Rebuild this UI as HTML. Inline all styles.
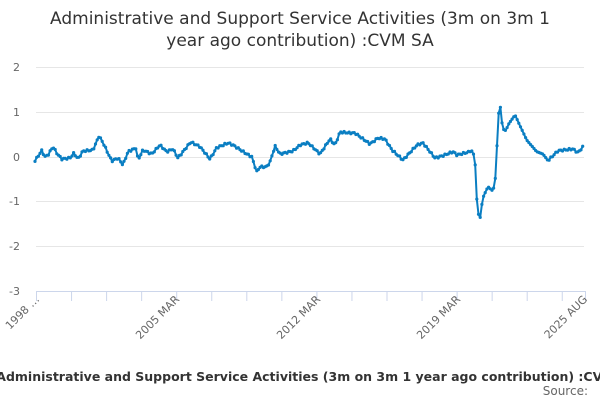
<!DOCTYPE html>
<html><head><meta charset="utf-8"><style>
body{margin:0;background:#fff;width:600px;height:400px;overflow:hidden;font-family:"Liberation Sans","DejaVu Sans",sans-serif}
</style></head><body>
<svg id="s" width="600" height="400" xmlns="http://www.w3.org/2000/svg" font-family="DejaVu Sans, Liberation Sans, sans-serif">
<text x="300" y="24" text-anchor="middle" font-size="17" fill="#333">Administrative and Support Service Activities (3m on 3m 1</text>
<text x="300" y="46" text-anchor="middle" font-size="17" fill="#333">year ago contribution) :CVM SA</text>
<g stroke="#e6e6e6" stroke-width="1">
<line x1="36" x2="584" y1="67.5" y2="67.5"/><line x1="36" x2="584" y1="112.5" y2="112.5"/>
<line x1="36" x2="584" y1="157.5" y2="157.5"/><line x1="36" x2="584" y1="201.5" y2="201.5"/>
<line x1="36" x2="584" y1="246.5" y2="246.5"/>
</g>
<g font-size="11" fill="#666" text-anchor="end">
<text x="20" y="71">2</text><text x="20" y="116">1</text><text x="20" y="161">0</text>
<text x="20" y="205">-1</text><text x="20" y="250">-2</text><text x="20" y="295">-3</text>
</g>
<line x1="36" x2="586" y1="291.5" y2="291.5" stroke="#ccd6eb"/>
<g id="ticks" stroke="#ccd6eb"></g>
<g font-size="11" fill="#666" text-anchor="end">
<text transform="translate(40,300) rotate(-45)">1998 …</text>
<text transform="translate(180,300) rotate(-45)">2005 MAR</text>
<text transform="translate(321,300) rotate(-45)">2012 MAR</text>
<text transform="translate(461,300) rotate(-45)">2019 MAR</text>
<text transform="translate(588,300) rotate(-45)">2025 AUG</text>
</g>
<polyline id="pl" fill="none" stroke="#0a7ec2" stroke-width="2" stroke-linejoin="round"/>
<g id="mk" fill="#0a7ec2"></g>
<text x="317" y="381" text-anchor="middle" font-size="12.5" font-weight="bold" fill="#333">Administrative and Support Service Activities (3m on 3m 1 year ago contribution) :CVM SA</text>
<text x="588" y="395" text-anchor="end" font-size="12" fill="#666">Source:</text>
</svg>
<script>
var k=[[35,160.7],[41.7,150.7],[45,156.7],[48,155],[53,146.7],[56.7,153],[61.7,159],[70,158],[74,153],[78,159],[83,151],[93,150],[99,136],[103,142.7],[111.7,161],[118,158],[123,165],[128,151.7],[136,148],[138,160],[143,150],[151.7,154],[160,145],[166.7,151.7],[173,149],[178,158],[190.7,142],[200,146.7],[210,159],[216.7,147.7],[228,143],[233,145],[246.7,154],[251.7,156.7],[256.7,171.7],[260,167],[266.7,166.7],[270,162],[275,146],[280,154],[293,151],[300,145],[308,142.7],[320,154],[330,139],[335,145],[340,132],[350,133],[355,133],[370,144],[378,138],[385,139],[392,150],[403,160],[417,145],[423,143],[435,158],[443,155.7],[453,151.7],[457,155],[470,151.7],[472.7,150.7],[475,160.7],[476,186.7],[477.7,211.7],[480,219],[482.7,198],[488,186.7],[492.7,191],[495,184],[496.7,154],[498,118],[500,104],[502.7,129],[506,130.7],[508,125],[515,115],[526.7,140],[536.7,151.7],[543,154],[548,160.7],[558,150.7],[573,149],[578,152.7],[583,146.7]];
function yAt(x){for(var i=0;i<k.length-1;i++){if(x<=k[i+1][0]){var a=k[i],b=k[i+1];return a[1]+(b[1]-a[1])*(x-a[0])/(b[0]-a[0]);}}return k[k.length-1][1];}
var pts=[],mk='',n=0;
for(var x=35;x<=583.01;x+=1.68){n++;var y=yAt(x);if(x<470||x>548)y+=Math.sin(n*2.3)*0.9;pts.push(x.toFixed(1)+','+y.toFixed(1));mk+='<circle cx="'+x.toFixed(1)+'" cy="'+y.toFixed(1)+'" r="1.6"/>';}
document.getElementById('pl').setAttribute('points',pts.join(' '));
document.getElementById('mk').innerHTML=mk;
var t='';for(var i=0;i<16;i++){var tx=36.5+i*35.05;t+='<line x1="'+tx+'" x2="'+tx+'" y1="291" y2="301"/>';}
t+='<line x1="585.5" x2="585.5" y1="291" y2="301"/>';
document.getElementById('ticks').innerHTML=t;
</script>
</body></html>
